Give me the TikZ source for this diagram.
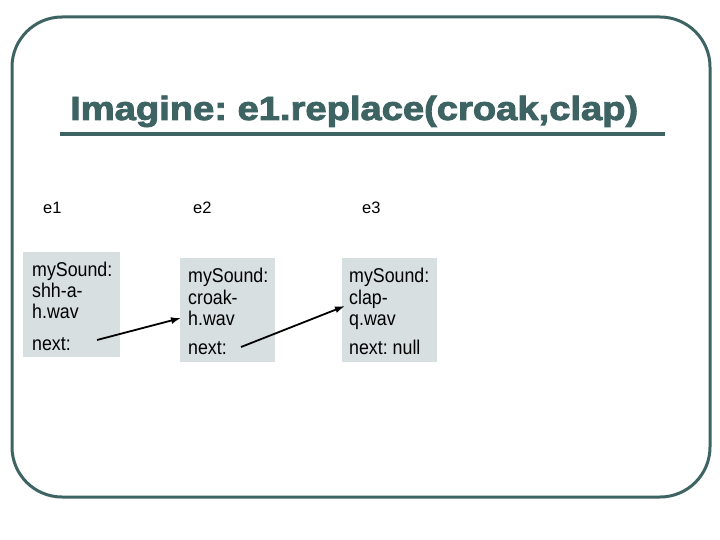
\documentclass[tikz,border=0pt]{standalone}
\usepackage{fontspec}
\usepackage{graphicx}
\usetikzlibrary{arrows.meta}
\setmainfont{Liberation Sans}
\newfontfamily\titlefont[BoldFeatures={FakeBold=2.5}]{Liberation Sans}
\frenchspacing
\definecolor{frame}{RGB}{61,99,99}
\definecolor{boxfill}{RGB}{216,223,225}
\newcommand{\tallt}[1]{\scalebox{1}[1.12]{#1}}
\begin{document}
\begin{tikzpicture}[x=1pt,y=-1pt,
  cell/.style={draw=none,fill=boxfill,inner sep=0pt},
  txt/.style={anchor=base west,inner sep=0pt,font=\fontsize{17.8}{20}\selectfont},
  lbl/.style={anchor=base west,inner sep=0pt,font=\fontsize{16.5}{20}\selectfont},
  ptr/.style={-{Latex[length=10pt,width=7pt]},line width=1.8pt,black}]
\useasboundingbox (0,0) rectangle (720,540);
\draw[frame,line width=3pt,rounded corners=50pt] (12,17) rectangle (710,497);
\node[anchor=base west,inner sep=0pt,text=frame,font=\titlefont\bfseries\fontsize{33.5}{36}\selectfont] (title) at (70,120) {\resizebox{568pt}{\height}{Imagine: e1.replace(croak,clap)}};
\draw[frame,line width=4pt] (60,134.5) -- (665,134.5);
\node[lbl] (e1) at (43,214) {e1};
\node[lbl] (e2) at (193,214) {e2};
\node[lbl] (e3) at (362,214) {e3};
\node[cell,minimum width=97pt,minimum height=105pt] (b1) at (71.5,304.5) {};
\node[cell,minimum width=95pt,minimum height=104pt] (b2) at (227.5,309.5) {};
\node[cell,minimum width=95pt,minimum height=104pt] (b3) at (389.5,309.5) {};
\node[txt] (s1) at (32,276.5) {\tallt{mySound:}};
\node[txt] (s1b) at (32,297) {\tallt{shh-a-}};
\node[txt] (s1c) at (32,318) {\tallt{h.wav}};
\node[txt] (n1) at (32,350) {\tallt{next:}};
\node[txt] (s2) at (188,282.3) {\tallt{mySound:}};
\node[txt] (s2b) at (188,304) {\tallt{croak-}};
\node[txt] (s2c) at (188,325) {\tallt{h.wav}};
\node[txt] (n2) at (188,354) {\tallt{next:}};
\node[txt] (s3) at (349,282.3) {\tallt{mySound:}};
\node[txt] (s3b) at (349,304) {\tallt{clap-}};
\node[txt] (s3c) at (349,325) {\tallt{q.wav}};
\node[txt] (n3) at (349,354) {\tallt{next: null}};
\coordinate (a1s) at (97,340);
\coordinate (a1e) at (181,318);
\coordinate (a2s) at (241,347);
\coordinate (a2e) at (345,306);
\draw[ptr] (a1s) -- (a1e);
\draw[ptr] (a2s) -- (a2e);
\end{tikzpicture}
\end{document}
